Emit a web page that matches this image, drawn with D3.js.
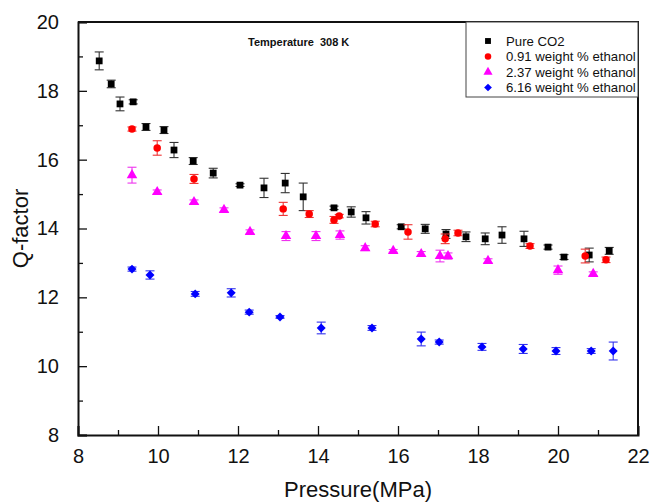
<!DOCTYPE html>
<html>
<head>
<meta charset="utf-8">
<script src="https://cdn.jsdelivr.net/npm/d3@7"></script>
<style>
  body { margin: 0; background: #fff; }
  svg { display: block; font-family: "Liberation Sans", Arial, sans-serif; }
</style>
</head>
<body>
<div id="chart"></div>
<script>
// data: pressure (MPa), Q-factor, half error bar
const pCO2 = [8.53, 8.83, 9.05, 9.38, 9.70, 10.15, 10.40, 10.88, 11.38, 12.05, 12.65, 13.18, 13.63, 14.40, 14.83, 15.20, 16.08, 16.68, 17.20, 17.70, 18.18, 18.60, 19.15, 19.75, 20.15, 20.78, 21.28]
const qCO2 = [18.87, 18.20, 17.62, 17.68, 16.95, 16.86, 16.28, 15.96, 15.61, 15.26, 15.18, 15.32, 14.92, 14.60, 14.48, 14.31, 14.05, 13.99, 13.84, 13.76, 13.70, 13.81, 13.70, 13.46, 13.17, 13.23, 13.35]
const eCO2 = [0.26, 0.11, 0.2, 0.06, 0.1, 0.1, 0.22, 0.1, 0.14, 0.04, 0.28, 0.28, 0.4, 0.05, 0.15, 0.18, 0.06, 0.13, 0.13, 0.14, 0.17, 0.24, 0.22, 0.06, 0.07, 0.2, 0.1]

const pE091 = [9.35, 9.98, 10.90, 13.13, 13.78, 14.40, 14.53, 15.43, 16.25, 17.18, 17.50, 19.30, 20.68, 21.20]
const qE091 = [16.89, 16.34, 15.44, 14.57, 14.42, 14.25, 14.36, 14.13, 13.90, 13.70, 13.87, 13.49, 13.20, 13.09]
const eE091 = [0.06, 0.21, 0.13, 0.19, 0.1, 0.1, 0.05, 0.08, 0.21, 0.14, 0.08, 0.07, 0.2, 0.08]

const pE237 = [9.35, 9.98, 10.90, 11.65, 12.30, 13.20, 13.95, 14.55, 15.18, 15.88, 16.58, 17.05, 17.25, 18.25, 20.00, 20.88]
const qE237 = [15.55, 15.06, 14.77, 14.54, 13.90, 13.78, 13.78, 13.81, 13.43, 13.35, 13.26, 13.20, 13.20, 13.06, 12.79, 12.68]
const eE237 = [0.23, 0.06, 0.06, 0.06, 0.06, 0.13, 0.13, 0.12, 0.07, 0.04, 0.07, 0.17, 0.09, 0.06, 0.12, 0.06]

const pE616 = [9.35, 9.80, 10.93, 11.83, 12.28, 13.05, 14.08, 15.35, 16.58, 17.03, 18.10, 19.13, 19.95, 20.83, 21.38]
const qE616 = [12.82, 12.65, 12.10, 12.13, 11.57, 11.43, 11.11, 11.11, 10.79, 10.70, 10.56, 10.50, 10.44, 10.44, 10.44]
const eE616 = [0.06, 0.12, 0.07, 0.12, 0.06, 0.04, 0.17, 0.07, 0.2, 0.06, 0.1, 0.13, 0.1, 0.07, 0.26]

const seriesNames = ["Pure CO2", "0.91 weight % ethanol", "2.37 weight % ethanol", "6.16 weight % ethanol"]
const xTicks = [8, 10, 12, 14, 16, 18, 20, 22]
const yTicks = [8, 10, 12, 14, 16, 18, 20]

const width = 652, height = 502
const margin = { top: 22, right: 14, bottom: 67, left: 78 }

const series = [
  { name: seriesNames[0], p: pCO2, q: qCO2, e: eCO2, color: "#000", bar: "#333", shape: d3.symbolSquare, size: 46, rot: 0 },
  { name: seriesNames[1], p: pE091, q: qE091, e: eE091, color: "#f00", bar: "#e33", shape: d3.symbolCircle, size: 44, rot: 0 },
  { name: seriesNames[2], p: pE237, q: qE237, e: eE237, color: "#f0f", bar: "#e3e", shape: d3.symbolTriangle, size: 48, rot: 0 },
  { name: seriesNames[3], p: pE616, q: qE616, e: eE616, color: "#00f", bar: "#33e", shape: d3.symbolSquare, size: 40, rot: 45 }
]

const x = d3.scaleLinear().domain([8, 22]).range([margin.left, width - margin.right])
const y = d3.scaleLinear().domain([8, 20]).range([height - margin.bottom, margin.top])

const svg = d3.select("#chart").append("svg").attr("width", width).attr("height", height)

// minor ticks (odd values), inward
svg.append("g")
   .attr("transform", `translate(0,${height - margin.bottom})`)
   .call(d3.axisBottom(x).tickValues(d3.range(9, 22, 2)).tickSize(-5).tickFormat(""))
   .call(g => g.select(".domain").remove())
svg.append("g")
   .attr("transform", `translate(${margin.left},0)`)
   .call(d3.axisLeft(y).tickValues(d3.range(9, 20, 2)).tickSize(-5).tickFormat(""))
   .call(g => g.select(".domain").remove())

// major axes
const xAxis = svg.append("g")
   .attr("transform", `translate(0,${height - margin.bottom})`)
   .call(d3.axisBottom(x).tickValues(xTicks).tickSize(-9).tickPadding(14).tickFormat(d3.format("d")))
xAxis.selectAll("text").attr("font-size", 20).attr("fill", "#111").attr("font-family", "Liberation Sans, Arial, sans-serif")

const yAxis = svg.append("g")
   .attr("transform", `translate(${margin.left},0)`)
   .call(d3.axisLeft(y).tickValues(yTicks).tickSize(-9).tickPadding(19).tickFormat(d3.format("d")))
yAxis.selectAll("text").attr("font-size", 20).attr("fill", "#111").attr("font-family", "Liberation Sans, Arial, sans-serif")

svg.selectAll(".tick line").attr("stroke", "#111").attr("stroke-width", 1.3)
svg.selectAll(".domain").attr("stroke", "#111").attr("stroke-width", 2)

// frame top/right
svg.append("path")
   .attr("d", `M${margin.left},${margin.top}H${width - margin.right}V${height - margin.bottom}`)
   .attr("fill", "none").attr("stroke", "#111").attr("stroke-width", 2)

// axis titles
svg.append("text")
   .attr("x", (margin.left + width - margin.right) / 2)
   .attr("y", 497)
   .attr("text-anchor", "middle")
   .attr("font-size", 22)
   .attr("fill", "#111")
   .text("Pressure(MPa)")
svg.append("text")
   .attr("transform", `translate(28,${(margin.top + height - margin.bottom) / 2}) rotate(-90)`)
   .attr("text-anchor", "middle")
   .attr("font-size", 22)
   .attr("fill", "#111")
   .text("Q-factor")

svg.append("text")
   .attr("x", 248).attr("y", 46)
   .attr("font-size", 11).attr("font-weight", "bold")
   .attr("fill", "#111")
   .text("Temperature\u00a0 308 K")

// error bars and markers
series.forEach(s => {
  const g = svg.append("g")
  const pts = s.p.map((p, i) => ({ p, q: s.q[i], e: s.e[i] }))
  const bars = g.selectAll(".eb").data(pts).join("g").attr("stroke", s.bar).attr("stroke-width", 1.1)
  bars.append("line")
      .attr("x1", d => x(d.p)).attr("x2", d => x(d.p))
      .attr("y1", d => y(d.q + d.e)).attr("y2", d => y(d.q - d.e))
  bars.append("line")
      .attr("x1", d => x(d.p) - 4.5).attr("x2", d => x(d.p) + 4.5)
      .attr("y1", d => y(d.q + d.e)).attr("y2", d => y(d.q + d.e))
  bars.append("line")
      .attr("x1", d => x(d.p) - 4.5).attr("x2", d => x(d.p) + 4.5)
      .attr("y1", d => y(d.q - d.e)).attr("y2", d => y(d.q - d.e))
  g.selectAll(".mk").data(pts).join("path")
      .attr("d", d3.symbol().type(s.shape).size(s.size))
      .attr("transform", d => `translate(${x(d.p)},${y(d.q)}) rotate(${s.rot})`)
      .attr("fill", s.color)
})

// legend
const lg = svg.append("g")
lg.append("rect")
  .attr("x", 466).attr("y", margin.top)
  .attr("width", width - margin.right - 466).attr("height", 75)
  .attr("fill", "#fff").attr("stroke", "#444").attr("stroke-width", 1)
series.forEach((s, i) => {
  const yy = 41 + i * 15.5
  lg.append("path")
    .attr("d", d3.symbol().type(s.shape).size(s.size * 0.75))
    .attr("transform", `translate(488,${yy}) rotate(${s.rot})`)
    .attr("fill", s.color)
  lg.append("text")
    .attr("x", 506).attr("y", yy + 4.5)
    .attr("font-size", 13.2).attr("fill", "#111")
    .text(s.name)
})
</script>
</body>
</html>
